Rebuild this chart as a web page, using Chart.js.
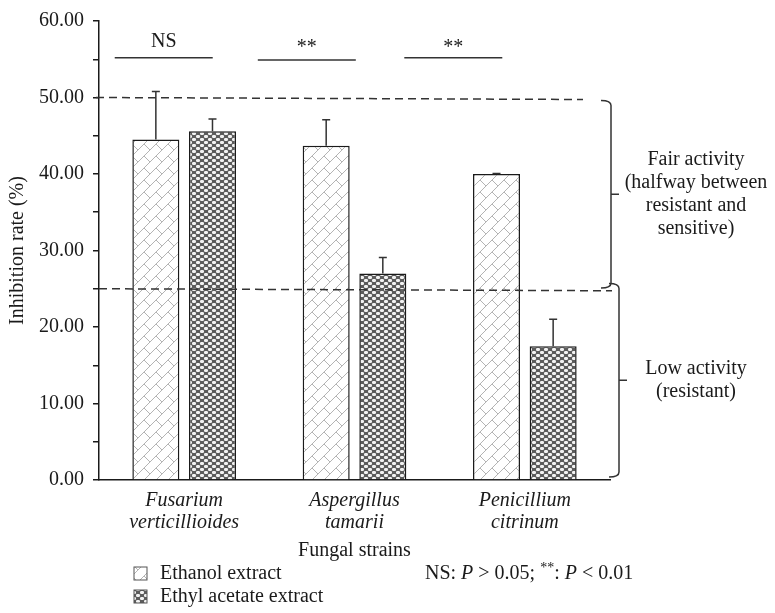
<!DOCTYPE html>
<html>
<head>
<meta charset="utf-8">
<script src="https://cdn.jsdelivr.net/npm/chart.js@4.4.1/dist/chart.umd.min.js"></script>
<style>
  html, body { margin: 0; padding: 0; background: #fff; }
</style>
</head>
<body>
<canvas id="inhibitionChart" width="775" height="613"></canvas>
<script>
// Data
const strains = [['Fusarium', 'verticillioides'], ['Aspergillus', 'tamarii'], ['Penicillium', 'citrinum']];
const ethanolValues = [44.5, 43.7, 40.0];
const ethanolErrors = [6.3, 3.4, 0.05];
const ethylAcetateValues = [45.6, 27.0, 17.5];
const ethylAcetateErrors = [1.6, 2.1, 3.5];
const yTicks = [0, 5, 10, 15, 20, 25, 30, 35, 40, 45, 50, 55, 60];
const sigLabels = ['NS', '**', '**'];
const thresholds = [50, 25];
const fairLines = ['Fair activity', '(halfway between', 'resistant and', 'sensitive)'];
const lowLines = ['Low activity', '(resistant)'];

const SERIF = '"Liberation Serif", "DejaVu Serif", serif';
const INK = '#1a1a1a';

// Fill patterns
function brickPattern() {
    const s = 12;
    const c = document.createElement('canvas');
    c.width = s; c.height = s;
    const g = c.getContext('2d');
    g.fillStyle = '#fff';
    g.fillRect(0, 0, s, s);
    g.strokeStyle = '#b4b4b4';
    g.lineWidth = 1;
    g.beginPath();
    g.moveTo(-2, s + 2); g.lineTo(s + 2, -2);
    g.moveTo(-2, 2); g.lineTo(2, -2);
    g.moveTo(s - 2, s + 2); g.lineTo(s + 2, s - 2);
    g.moveTo(0, 0); g.lineTo(s / 2, s / 2);
    g.stroke();
    return g.createPattern(c, 'repeat');
}

function dotPattern() {
    const c = document.createElement('canvas');
    c.width = 8; c.height = 6;
    const g = c.getContext('2d');
    g.fillStyle = '#5c5c5c';
    g.fillRect(0, 0, 8, 6);
    [[0, 0], [4, 3]].forEach(([x, y]) => {
        g.fillStyle = '#bdbdbd';
        g.fillRect(x, y, 4, 3);
        g.fillStyle = '#f2f2f2';
        g.fillRect(x + 1, y, 2, 3);
        g.fillRect(x, y + 1, 4, 1);
    });
    return g.createPattern(c, 'repeat');
}

const annotations = {
    id: 'annotations',
    afterDatasetsDraw(chart) {
        const { ctx, scales: { y } } = chart;
        // one-sided error bars
        [ethanolErrors, ethylAcetateErrors].forEach((errs, di) => {
            const vals = chart.data.datasets[di].data;
            chart.getDatasetMeta(di).data.forEach((bar, i) => {
                const top = y.getPixelForValue(vals[i] + errs[i]);
                ctx.save();
                ctx.strokeStyle = '#333';
                ctx.lineWidth = 1.5;
                ctx.beginPath();
                ctx.moveTo(bar.x, bar.y);
                ctx.lineTo(bar.x, top);
                ctx.moveTo(bar.x - 4, top);
                ctx.lineTo(bar.x + 4, top);
                ctx.stroke();
                ctx.restore();
            });
        });
    },
    afterDraw(chart) {
        const { ctx, chartArea, scales: { x, y } } = chart;
        ctx.save();
        ctx.strokeStyle = '#333';
        ctx.lineWidth = 1.5;

        // dashed threshold lines
        ctx.setLineDash([8, 5]);
        const dashEnds = [[chartArea.left - 3, chartArea.right - 27], [chartArea.left, chartArea.right + 2]];
        thresholds.forEach((t, i) => {
            const py = y.getPixelForValue(t);
            ctx.beginPath();
            ctx.moveTo(dashEnds[i][0], py);
            ctx.lineTo(dashEnds[i][1], py + 2);
            ctx.stroke();
        });
        ctx.setLineDash([]);

        // braces
        function brace(bx, top, bot) {
            const mid = (top + bot) / 2;
            ctx.beginPath();
            ctx.moveTo(bx - 10, top);
            ctx.quadraticCurveTo(bx, top, bx, top + 5);
            ctx.lineTo(bx, bot - 5);
            ctx.quadraticCurveTo(bx, bot, bx - 10, bot);
            ctx.moveTo(bx, mid);
            ctx.lineTo(bx + 8, mid);
            ctx.stroke();
            return mid;
        }
        const fairMid = brace(chartArea.right + 1, y.getPixelForValue(49.6), y.getPixelForValue(25.1));
        const lowMid = brace(chartArea.right + 9, y.getPixelForValue(25.7), y.getPixelForValue(0.4));

        ctx.fillStyle = INK;
        ctx.font = '20px ' + SERIF;
        ctx.textAlign = 'center';
        ctx.textBaseline = 'middle';
        const tx = chartArea.right + 86;
        fairLines.forEach((t, i) => ctx.fillText(t, tx, fairMid + (i - 1.5) * 23));
        lowLines.forEach((t, i) => ctx.fillText(t, tx, lowMid + (i - 0.5) * 23));

        // significance bars
        const band = x.getPixelForValue(1) - x.getPixelForValue(0);
        const sigShift = [-0.12, -0.28, -0.42];
        sigLabels.forEach((lab, i) => {
            const cx = x.getPixelForValue(i) + sigShift[i] * band;
            const ly = y.getPixelForValue(i === 1 ? 54.9 : 55.2);
            ctx.beginPath();
            ctx.moveTo(cx - 49, ly);
            ctx.lineTo(cx + 49, ly);
            ctx.stroke();
            if (lab === 'NS') {
                ctx.textBaseline = 'middle';
                ctx.fillText(lab, cx, y.getPixelForValue(57.3));
            } else {
                ctx.textBaseline = 'alphabetic';
                ctx.fillText(lab, cx, y.getPixelForValue(56.9) + 8);
            }
        });

        // legend
        ctx.textAlign = 'left';
        ctx.textBaseline = 'middle';
        chart.data.datasets.forEach((ds, i) => {
            const ly = 574 + i * 23;
            ctx.fillStyle = ds.backgroundColor;
            ctx.fillRect(134, ly - 7, 13, 13);
            ctx.strokeStyle = '#555';
            ctx.lineWidth = 1;
            ctx.strokeRect(134, ly - 7, 13, 13);
            ctx.fillStyle = INK;
            ctx.font = '20px ' + SERIF;
            ctx.fillText(ds.label, 160, ly);
        });

        // significance note
        const parts = [
            ['NS: ', 'normal', 0],
            ['P', 'italic', 0],
            [' > 0.05; ', 'normal', 0],
            ['**', 'small', -6],
            [': ', 'normal', 0],
            ['P', 'italic', 0],
            [' < 0.01', 'normal', 0]
        ];
        let nx = 425;
        parts.forEach(([t, st, dy]) => {
            ctx.font = st === 'italic' ? 'italic 20px ' + SERIF : st === 'small' ? '14px ' + SERIF : '20px ' + SERIF;
            ctx.fillText(t, nx, 574 + dy);
            nx += ctx.measureText(t).width;
        });
        ctx.restore();
    }
};

const ctx = document.getElementById('inhibitionChart').getContext('2d');
const inhibitionChart = new Chart(ctx, {
    type: 'bar',
    data: {
        labels: strains,
        datasets: [{
            label: 'Ethanol extract',
            data: ethanolValues,
            backgroundColor: brickPattern(),
            borderColor: INK,
            borderWidth: 1.5,
            barPercentage: 0.83,
            categoryPercentage: 0.665
        }, {
            label: 'Ethyl acetate extract',
            data: ethylAcetateValues,
            backgroundColor: dotPattern(),
            borderColor: INK,
            borderWidth: 1.5,
            barPercentage: 0.83,
            categoryPercentage: 0.665
        }]
    },
    options: {
        responsive: false,
        animation: false,
        layout: { padding: { left: 0, right: 165, top: 20, bottom: 50 } },
        plugins: {
            legend: { display: false },
            tooltip: { enabled: false }
        },
        scales: {
            x: {
                grid: { display: true, drawOnChartArea: false, drawTicks: false },
                border: { color: INK, width: 1.5 },
                ticks: {
                    color: INK,
                    padding: 10,
                    font: { family: SERIF, size: 20, style: 'italic', lineHeight: 1.1 }
                },
                title: {
                    display: true,
                    text: 'Fungal strains',
                    color: INK,
                    padding: { top: 0, bottom: 0 },
                    font: { family: SERIF, size: 20 }
                },
                afterFit(scale) { scale.height = 83; }
            },
            y: {
                min: 0,
                max: 60,
                afterBuildTicks(scale) { scale.ticks = yTicks.map(v => ({ value: v })); },
                grid: { drawOnChartArea: false, drawTicks: true, tickLength: 6, color: INK, lineWidth: 1.5 },
                border: { color: INK, width: 1.5 },
                ticks: {
                    color: INK,
                    padding: 9,
                    autoSkip: false,
                    font: { family: SERIF, size: 20 },
                    callback: v => (v % 10 === 0 ? v.toFixed(2) : '')
                },
                title: {
                    display: true,
                    text: 'Inhibition rate (%)',
                    color: INK,
                    padding: { top: 6, bottom: 0 },
                    font: { family: SERIF, size: 20 }
                },
                afterFit(scale) { scale.width = 99; }
            }
        }
    },
    plugins: [annotations]
});
</script>
</body>
</html>
